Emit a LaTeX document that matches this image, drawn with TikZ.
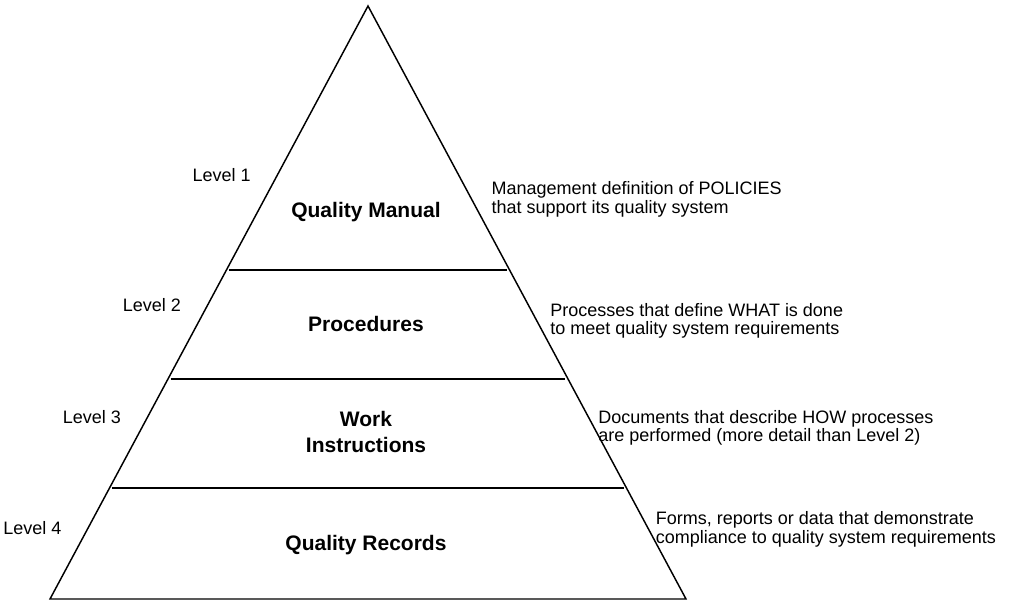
\documentclass[tikz,border=0pt]{standalone}
\usepackage{fontspec}
\setmainfont{Liberation Sans}
\usetikzlibrary{calc,positioning}

\begin{document}
\begin{tikzpicture}[x=0.75pt, y=-0.75pt, line width=1.1pt,
      every node/.append style={inner sep=0pt},
      level/.style={font=\fontsize{13.5}{16}\selectfont, anchor=east},
      tier/.style={font=\fontsize{15.75}{19}\selectfont\bfseries, align=center},
      note/.style={font=\fontsize{13.5}{14}\selectfont, align=left, anchor=west}]
    \useasboundingbox (0,0) rectangle (1026,600);
    \coordinate (apex) at (368,6);
    \coordinate (bl) at (50,599);
    \coordinate (br) at (686,599);
    \draw (apex) -- (bl) -- (br) -- cycle;
    % dividers between the levels
    \foreach \t [count=\i] in {0.4452,0.629,0.8128} {
      \coordinate (l\i) at ($(apex)!\t!(bl)$);
      \coordinate (r\i) at ($(apex)!\t!(br)$);
      \draw[shorten <=2pt, shorten >=2pt] (l\i) -- (r\i);
    }
    % points on the edges next to the side texts
    \foreach \t [count=\i] in {0.285,0.504,0.693,0.880}
      \coordinate (el\i) at ($(apex)!\t!(bl)$);
    \foreach \t [count=\i] in {0.3255,0.531,0.7116,0.882}
      \coordinate (er\i) at ($(apex)!\t!(br)$);

    \node (manual) [tier] at (366,212) {Quality Manual};
    \node (procedures) [tier] at (366,324) {Procedures};
    \node (instructions) [tier] at (366,432) {Work\\Instructions};
    \node (records) [tier] at (366,545) {Quality Records};

    \node (level1) [level, left=19.5pt of el1] {Level 1};
    \node (level2) [level, left=19.5pt of el2] {Level 2};
    \node (level3) [level, left=19.5pt of el3] {Level 3};
    \node (level4) [level, left=19.5pt of el4] {Level 4};

    \node (policies) [note, right=14.5pt of er1] {Management definition of POLICIES\\that support its quality system};
    \node (what) [note, right=9.5pt of er2] {Processes that define WHAT is done\\to meet quality system requirements};
    \node (how) [note, right=2.5pt of er3] {Documents that describe HOW processes\\are performed (more detail than Level 2)};
    \node (proof) [note, right=5pt of er4] {Forms, reports or data that demonstrate\\compliance to quality system requirements};
  \end{tikzpicture}
\end{document}
